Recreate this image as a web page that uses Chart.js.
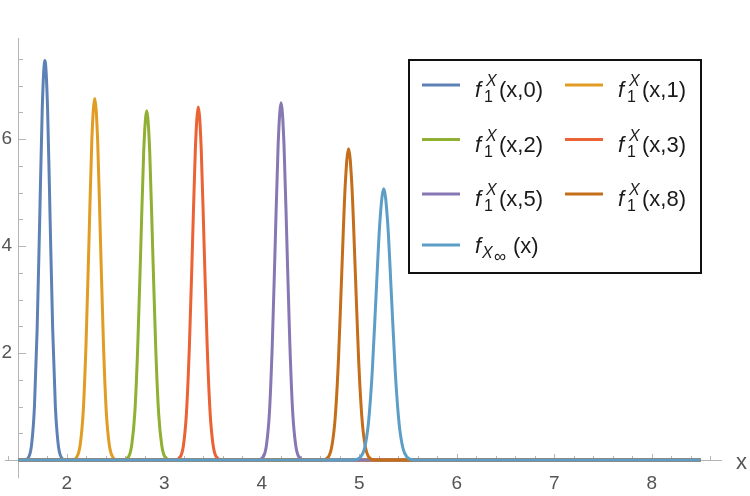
<!DOCTYPE html>
<html>
<head>
<meta charset="utf-8">
<script src="https://cdn.jsdelivr.net/npm/chart.js@4.4.1/dist/chart.umd.min.js"></script>
<style>
  html, body { margin: 0; padding: 0; background: #fff; }
  #wrap { width: 750px; height: 496px; }
</style>
</head>
<body>
<div id="wrap"><canvas id="c" width="750" height="496"></canvas></div>
<script>
/* ── data ── */
const xTicks = [2, 3, 4, 5, 6, 7, 8];
const yTicks = [2, 4, 6];
const seriesArgs = ['(x,0)', '(x,1)', '(x,2)', '(x,3)', '(x,5)', '(x,8)', '(x)'];
const seriesColors = ['#5E81B5', '#E19C24', '#8FB032', '#EB6235', '#8778B3', '#C56E1A', '#5D9EC7'];

const x0 = [1.5, 1.562, 1.616, 1.642, 1.669, 1.696, 1.723, 1.749, 1.776, 1.803, 1.829, 1.856, 1.883, 1.910, 1.936, 1.990, 8.5];
const y0 = [0,   0,     0.08,  0.33,  1.01,  2.43,  4.53,  6.59,  7.47,  6.59,  4.53,  2.43,  1.01,  0.33,  0.08,  0,     0];

const x1 = [1.5, 2.051, 2.110, 2.139, 2.169, 2.198, 2.228, 2.257, 2.287, 2.317, 2.346, 2.376, 2.405, 2.435, 2.464, 2.523, 8.5];
const y1 = [0,   0,     0.08,  0.30,  0.91,  2.19,  4.10,  5.97,  6.76,  5.97,  4.10,  2.19,  0.91,  0.30,  0.08,  0,     0];

const x2 = [1.5, 2.576, 2.637, 2.667, 2.698, 2.728, 2.759, 2.789, 2.820, 2.851, 2.881, 2.912, 2.942, 2.973, 3.003, 3.064, 8.5];
const y2 = [0,   0,     0.07,  0.29,  0.88,  2.12,  3.96,  5.76,  6.53,  5.76,  3.96,  2.12,  0.88,  0.29,  0.07,  0,     0];

const x3 = [1.5, 3.107, 3.168, 3.198, 3.228, 3.258, 3.289, 3.319, 3.349, 3.379, 3.409, 3.440, 3.470, 3.500, 3.530, 3.591, 8.5];
const y3 = [0,   0,     0.07,  0.29,  0.89,  2.14,  4.00,  5.82,  6.60,  5.82,  4.00,  2.14,  0.89,  0.29,  0.07,  0,     0];

const x5 = [1.5, 3.959, 4.019, 4.049, 4.079, 4.108, 4.138, 4.168, 4.198, 4.228, 4.258, 4.288, 4.317, 4.347, 4.377, 4.437, 8.5];
const y5 = [0,   0,     0.07,  0.29,  0.90,  2.17,  4.05,  5.90,  6.68,  5.90,  4.05,  2.17,  0.90,  0.29,  0.07,  0,     0];

const x8 = [1.5, 4.616, 4.684, 4.719, 4.753, 4.787, 4.821, 4.856, 4.890, 4.924, 4.959, 4.993, 5.027, 5.061, 5.096, 5.164, 8.5];
const y8 = [0,   0,     0.06,  0.26,  0.79,  1.89,  3.53,  5.14,  5.82,  5.14,  3.53,  1.89,  0.79,  0.26,  0.06,  0,     0];

const xInf = [1.5, 4.936, 5.015, 5.054, 5.094, 5.133, 5.172, 5.212, 5.251, 5.290, 5.330, 5.369, 5.408, 5.448, 5.487, 5.566, 8.5];
const yInf = [0,   0,     0.06,  0.22,  0.69,  1.65,  3.07,  4.47,  5.07,  4.47,  3.07,  1.65,  0.69,  0.22,  0.06,  0,     0];

const seriesX = [x0, x1, x2, x3, x5, x8, xInf];
const seriesY = [y0, y1, y2, y3, y5, y8, yInf];

const AXIS = '#b4b4b4';
const LABEL = '#555';
const FONT = '"Liberation Sans", Arial, sans-serif';

/* ── axes with inward ticks (Mathematica style) ── */
const axesPlugin = {
  id: 'axes',
  beforeDatasetsDraw(chart) {
    const { ctx, scales: { x, y } } = chart;
    const x0p = x.getPixelForValue(1.5);
    const y0p = y.getPixelForValue(0);
    ctx.save();
    ctx.strokeStyle = AXIS;
    ctx.lineWidth = 1;
    ctx.beginPath();
    ctx.moveTo(x.getPixelForValue(1.365), y0p + 0.5);
    ctx.lineTo(x.right, y0p + 0.5);
    ctx.moveTo(x0p + 0.5, chart.chartArea.top);
    ctx.lineTo(x0p + 0.5, y.getPixelForValue(-0.34));
    // x ticks every 0.2
    for (let k = 7; k <= 43; k++) {
      const v = k / 5;
      const px = Math.round(x.getPixelForValue(v)) + 0.5;
      const len = k % 5 === 0 ? 6 : 4;
      ctx.moveTo(px, y0p);
      ctx.lineTo(px, y0p - len);
    }
    // y ticks every 0.5
    for (let k = 1; k <= 15; k++) {
      const v = k / 2;
      const py = Math.round(y.getPixelForValue(v)) + 0.5;
      const len = yTicks.includes(v) ? 8 : 5;
      ctx.moveTo(x0p, py);
      ctx.lineTo(x0p + len, py);
    }
    ctx.stroke();
    ctx.fillStyle = LABEL;
    ctx.font = '22px ' + FONT;
    ctx.textBaseline = 'alphabetic';
    ctx.fillText('x', 736, 469);
    ctx.restore();
  }
};

/* ── legend with sub/superscripts ── */
function drawLegendText(ctx, tx, ry, i) {
  ctx.fillStyle = '#1a1a1a';
  ctx.textBaseline = 'alphabetic';
  if (i < 6) {
    ctx.font = 'italic 22px ' + FONT;
    ctx.fillText('f', tx, ry + 12);
    ctx.font = 'italic 16px ' + FONT;
    ctx.fillText('X', tx + 11, ry + 1);
    ctx.font = '16px ' + FONT;
    ctx.fillText('1', tx + 9, ry + 17);
    ctx.font = '22px ' + FONT;
    ctx.fillText(seriesArgs[i], tx + 24, ry + 12);
  } else {
    ctx.font = 'italic 22px ' + FONT;
    ctx.fillText('f', tx, ry + 8);
    ctx.font = 'italic 16px ' + FONT;
    ctx.fillText('X', tx + 7, ry + 13);
    ctx.font = '17px ' + FONT;
    ctx.fillText('\u221E', tx + 19, ry + 17);
    ctx.font = '22px ' + FONT;
    ctx.fillText(seriesArgs[i], tx + 38, ry + 8);
  }
}

const legendPlugin = {
  id: 'mmaLegend',
  afterDraw(chart) {
    const ctx = chart.ctx;
    const cols = [422, 565];
    const rows = [85, 139.5, 194, 245];
    ctx.save();
    ctx.fillStyle = '#fff';
    ctx.fillRect(409, 60, 292, 213);
    ctx.strokeStyle = '#111';
    ctx.lineWidth = 2;
    ctx.strokeRect(409, 60, 292, 213);
    chart.data.datasets.forEach((ds, i) => {
      const lx = cols[i % 2], ry = rows[Math.floor(i / 2)];
      ctx.strokeStyle = ds.borderColor;
      ctx.lineWidth = 3;
      ctx.beginPath();
      ctx.moveTo(lx, ry);
      ctx.lineTo(lx + 38, ry);
      ctx.stroke();
      drawLegendText(ctx, lx + 53, ry, i);
    });
    ctx.restore();
  }
};

new Chart(document.getElementById('c'), {
  type: 'line',
  data: {
    datasets: seriesX.map((xs, i) => ({
      label: i < 6 ? 'f1X' + seriesArgs[i] : 'fX∞' + seriesArgs[i],
      data: xs.map((xv, j) => ({ x: xv, y: seriesY[i][j] })),
      borderColor: seriesColors[i],
      backgroundColor: seriesColors[i],
      borderWidth: 3,
      pointRadius: 0,
      cubicInterpolationMode: 'monotone',
      clip: false,
      order: 6 - i,
    }))
  },
  options: {
    responsive: false,
    animation: false,
    layout: { padding: { top: 38, right: 28, left: 0, bottom: 0 } },
    scales: {
      x: {
        type: 'linear', min: 1.5, max: 8.72,
        grid: { display: false, drawTicks: false },
        border: { display: false },
        afterBuildTicks: s => { s.ticks = xTicks.map(v => ({ value: v })); },
        ticks: {
          autoSkip: false, padding: 12, color: LABEL, maxRotation: 0,
          font: { size: 19, family: FONT },
          callback: v => String(v)
        },
        afterFit: s => { s.height = 36; }
      },
      y: {
        min: 0, max: 7.89,
        grid: { display: false, drawTicks: false },
        border: { display: false },
        afterBuildTicks: s => { s.ticks = yTicks.map(v => ({ value: v })); },
        ticks: {
          autoSkip: false, padding: 6, color: LABEL,
          font: { size: 19, family: FONT },
          callback: v => String(v)
        },
        afterFit: s => { s.width = 18; }
      }
    },
    plugins: { legend: { display: false }, tooltip: { enabled: false } }
  },
  plugins: [axesPlugin, legendPlugin]
});
</script>
</body>
</html>
